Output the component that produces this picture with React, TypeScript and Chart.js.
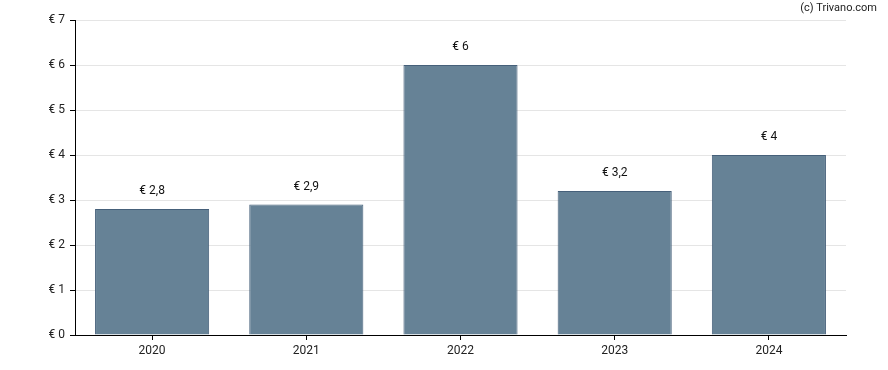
import React, { useEffect, useRef } from "react";
import { Chart, registerables } from "chart.js";

Chart.register(...registerables);

const categories = ["2020", "2021", "2022", "2023", "2024"];
const values = [2.8, 2.9, 6, 3.2, 4];
const yTicks = [0, 1, 2, 3, 4, 5, 6, 7];

const fmt = (v: number) => "€ " + String(v).replace(".", ",");

const valueLabels = {
  id: "valueLabels",
  afterDatasetsDraw(chart: any) {
    const ctx = chart.ctx;
    const meta = chart.getDatasetMeta(0);
    ctx.save();
    ctx.font = "12px Roboto, 'DejaVu Sans', sans-serif";
    ctx.fillStyle = "#111";
    ctx.textAlign = "center";
    ctx.textBaseline = "middle";
    meta.data.forEach((bar: any, i: number) => {
      ctx.fillText(fmt(values[i]), bar.x, bar.y - 18);
    });
    ctx.font = "11px Roboto, 'DejaVu Sans', sans-serif";
    ctx.textAlign = "right";
    ctx.fillStyle = "#222";
    ctx.fillText("(c) Trivano.com", 877, 8);
    ctx.restore();
  },
};

export default function App() {
  const ref = useRef<HTMLCanvasElement | null>(null);
  useEffect(() => {
    if (!ref.current) return;
    const chart = new Chart(ref.current, {
      type: "bar",
      data: {
        labels: categories,
        datasets: [
          {
            data: values,
            backgroundColor: "#668296",
            borderColor: "#46607a",
            borderWidth: 1,
            barPercentage: 0.74,
            categoryPercentage: 1,
          },
        ],
      },
      options: {
        animation: false,
        responsive: false,
        layout: { padding: { left: 0, right: 42, top: 20, bottom: 0 } },
        plugins: { legend: { display: false }, tooltip: { enabled: false } },
        scales: {
          x: {
            afterFit(scale: any) {
              scale.height = 35;
            },
            grid: {
              drawOnChartArea: false,
              offset: false,
              tickColor: "#000",
              tickLength: 5,
            },
            border: { color: "#000", width: 1 },
            ticks: {
              color: "#222",
              font: { size: 12, family: "Roboto, 'DejaVu Sans', sans-serif" },
              padding: 4,
            },
          },
          y: {
            min: 0,
            max: 7,
            afterFit(scale: any) {
              scale.width = 75;
            },
            afterBuildTicks(scale: any) {
              scale.ticks = yTicks.map((v) => ({ value: v }));
            },
            grid: {
              color: "#e5e5e5",
              tickColor: "#000",
              tickLength: 5,
            },
            border: { color: "#000", width: 1 },
            ticks: {
              color: "#222",
              font: { size: 12, family: "Roboto, 'DejaVu Sans', sans-serif" },
              padding: 5,
              callback: (v: any) => fmt(Number(v)),
            },
          },
        },
      },
      plugins: [valueLabels],
    });
    return () => chart.destroy();
  }, []);
  return (
    <div style={{ position: "absolute", left: 0, top: 0, width: 888, height: 370 }}>
      <canvas ref={ref} width={888} height={370} style={{ width: 888, height: 370 }} />
    </div>
  );
}
